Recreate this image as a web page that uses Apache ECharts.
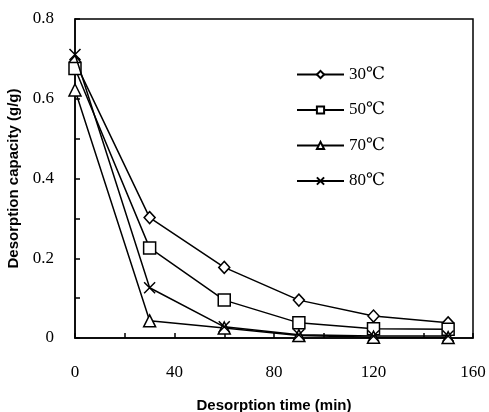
<!DOCTYPE html>
<html><head><meta charset="utf-8">
<script src="https://cdn.jsdelivr.net/npm/echarts@6/dist/echarts.min.js"></script>
<style>html,body{margin:0;padding:0;background:#fff}#c{width:489px;height:412px}</style>
</head><body><div id="c"></div>
<script>
const times = [0, 30, 60, 90, 120, 150];
const seriesNames = ['30℃', '50℃', '70℃', '80℃'];
const s30 = [0.693, 0.302, 0.177, 0.095, 0.055, 0.038];
const s50 = [0.676, 0.226, 0.095, 0.038, 0.023, 0.022];
const s70 = [0.622, 0.043, 0.025, 0.006, 0.002, 0.001];
const s80 = [0.711, 0.126, 0.028, 0.008, 0.005, 0.005];
const xTickLabels = [0, 40, 80, 120, 160];
const yTickLabels = [0, 0.2, 0.4, 0.6, 0.8];

const symbols = ['diamond', 'rect', 'triangle', 'path://M0,0L10,10M10,0L0,10'];
const sizes = [[11, 12], [12, 12], [12, 12], [11, 11]];
const allData = [s30, s50, s70, s80];

const chart = echarts.init(document.getElementById('c'));
const serif = '"Liberation Serif", "DejaVu Serif", serif';
const sans = '"Liberation Sans", "DejaVu Sans", sans-serif';
chart.setOption({
  animation: false,
  grid: { left: 75, right: 16, top: 19, bottom: 74, show: true, borderColor: '#000', borderWidth: 1.5,
    containLabel: false, outerBoundsMode: 'none' },
  legend: {
    orient: 'vertical', left: 291, top: 61, itemGap: 18.5, itemWidth: 47, itemHeight: 9,
    textStyle: { fontFamily: serif, fontSize: 17, color: '#000' },
    data: seriesNames
  },
  xAxis: {
    type: 'value', min: 0, max: 160, interval: 20,
    name: 'Desorption time (min)', nameLocation: 'middle', nameGap: 60,
    nameTextStyle: { fontFamily: sans, fontWeight: 'bold', fontSize: 15, color: '#000' },
    axisLine: { lineStyle: { color: '#000', width: 1.5 } },
    axisTick: { inside: true, length: 5, lineStyle: { color: '#000', width: 1.5 } },
    splitLine: { show: false },
    axisLabel: { margin: 26, fontFamily: serif, fontSize: 17, color: '#000',
      formatter: v => xTickLabels.indexOf(v) >= 0 ? String(v) : '' }
  },
  yAxis: {
    type: 'value', min: 0, max: 0.8, interval: 0.1,
    name: 'Desorption capacity (g/g)', nameLocation: 'middle', nameGap: 50,
    nameTextStyle: { fontFamily: sans, fontWeight: 'bold', fontSize: 15, color: '#000' },
    axisLine: { lineStyle: { color: '#000', width: 1.5 } },
    axisTick: { inside: true, length: 5, lineStyle: { color: '#000', width: 1.5 } },
    splitLine: { show: false },
    axisLabel: { margin: 21, fontFamily: serif, fontSize: 17, color: '#000',
      formatter: v => {
        const r = Math.round(v * 10) / 10;
        if (!yTickLabels.some(t => Math.abs(t - r) < 1e-6)) return '';
        return r === 0 ? '0' : r.toFixed(1);
      } }
  },
  series: seriesNames.map((n, i) => ({
    name: n, type: 'line',
    data: times.map((t, j) => [t, allData[i][j]]),
    symbol: symbols[i], symbolSize: sizes[i], showSymbol: true,
    lineStyle: { color: '#000', width: 1.5 },
    itemStyle: { color: '#fff', borderColor: '#000', borderWidth: 1.5 },
    z: 2 + i
  }))
});
</script></body></html>
